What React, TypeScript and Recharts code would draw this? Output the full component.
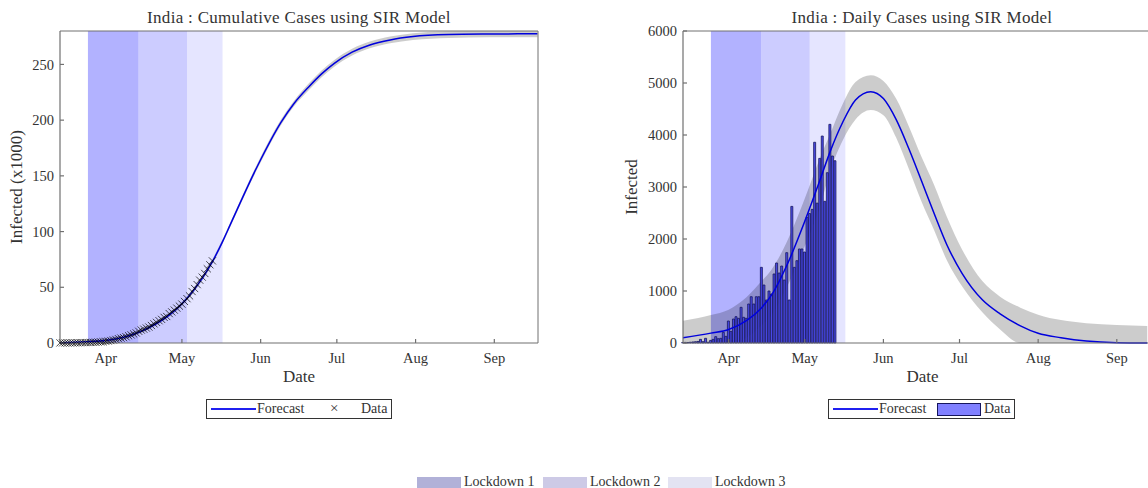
import {
  Area,
  Bar,
  ComposedChart,
  Line,
  ReferenceArea,
  XAxis,
  YAxis,
} from 'recharts'

const FONT = '"Liberation Serif", serif'
const INK = '#333333'
const AXIS = '#707070'
const FORECAST_BLUE = '#0000dd'

// days counted from 1 April
const monthTicks = [0, 30, 61, 91, 122, 153]
const monthNames = ['Apr', 'May', 'Jun', 'Jul', 'Aug', 'Sep']

const lockdownEdges = [-7, 13, 32, 46]
const lockdownColors = ['#b2b2ff', '#ccccff', '#e5e5ff']
const lockdownNames = ['Lockdown 1', 'Lockdown 2', 'Lockdown 3']
const lockdownSwatches = ['#b1b1d8', '#cdcae6', '#e3e3f2']

const observedDays = [
  -18, -17, -16, -15, -14, -13, -12, -11, -10, -9, -8, -7, -6, -5, -4, -3, -2, -1,
  0, 1, 2, 3, 4, 5, 6, 7, 8, 9, 10, 11, 12, 13, 14, 15, 16, 17, 18, 19, 20, 21,
  22, 23, 24, 25, 26, 27, 28, 29, 30, 31, 32, 33, 34, 35, 36, 37, 38, 39, 40, 41, 42,
]

const cumulativeData = [
  0.08, 0.09, 0.1, 0.11, 0.13, 0.15, 0.18, 0.25, 0.27, 0.36, 0.38, 0.43, 0.5, 0.62, 0.7, 0.79, 1.0, 1.1,
  1.5, 1.74, 2.2, 2.7, 3.2, 3.9, 4.4, 4.85, 5.6, 6.5, 7.25, 8.14, 9.03, 10.5, 11.6, 12.4, 13.4, 14.3, 15.7, 17.2, 18.5, 20,
  21.2, 23, 23.8, 26.4, 27.9, 29.5, 31.3, 33.1, 34.9, 37.3, 39.8, 42.3, 46.2, 48.9, 52.4, 56.4, 59.1, 62.4, 66.6, 70.2, 73.7,
]

const dailyData = [
  10, 12, 10, 15, 20, 25, 30, 70, 25, 90, 15, 50, 70, 122, 83, 90, 205, 128,
  423, 224, 461, 506, 474, 686, 494, 475, 750, 890, 750, 890, 890, 1455, 1115, 827, 1000, 942, 1327, 1538, 1346, 1480,
  1211, 1737, 827, 2627, 1455, 1583, 1808, 1808, 1750, 2416, 2490, 2570, 3860, 2690, 3550, 3980, 2725, 3275, 4205, 3596, 3505,
]

const cumulativeDays = [-18, -7, 0, 13, 20, 25, 31, 38, 42, 46, 49, 60, 69, 74, 80, 85, 90, 97, 104, 112, 121, 135, 151, 170]
const cumulativeForecast = [0.3, 1.2, 2.2, 9.5, 17.5, 25, 37.5, 58, 73, 91, 106, 160, 198, 214.5, 230, 241.5, 251, 261, 267.5, 272, 275, 276.8, 277.3, 277.5]
const cumulativeLow = [0, 0.4, 1.2, 8, 16, 23.5, 35.5, 56, 71, 89, 104, 157.5, 195.5, 212, 227, 238.5, 248, 258, 264.5, 269, 272, 273.8, 274.3, 274.5]
const cumulativeHigh = [0.8, 2, 3.2, 11, 19, 26.5, 39.5, 60, 75, 93, 108, 162.5, 200.5, 217, 233, 244.5, 254, 264, 270.5, 275, 278, 279.8, 280, 280]

const dailyDays = [-18, -7, 0, 7, 13, 17, 23, 30, 36, 40, 45, 50, 56, 61, 66, 71, 76, 81, 86, 92, 100, 107, 115, 122, 131, 141, 153, 165]
const dailyForecast = [100, 190, 260, 430, 680, 930, 1500, 2340, 3134, 3680, 4250, 4673, 4833, 4700, 4300, 3740, 3120, 2490, 1890, 1340, 830, 560, 330, 186, 102, 38, 6, 0]
const dailyLow = [0, 0, 0, 100, 340, 540, 1080, 1860, 2620, 3300, 3900, 4300, 4480, 4380, 3950, 3350, 2720, 2170, 1590, 1090, 590, 260, 0, 0, 0, 0, 0, 0]
const dailyHigh = [430, 540, 640, 880, 1190, 1420, 1950, 2780, 3560, 4020, 4600, 5020, 5150, 5040, 4700, 4170, 3580, 3040, 2430, 1800, 1190, 890, 680, 545, 440, 380, 346, 327]

const cumulativeTicks = [0, 50, 100, 150, 200, 250]
const dailyTicks = [0, 1000, 2000, 3000, 4000, 5000, 6000]

interface Row {
  day: number
  observed?: number
  forecast?: number
  band?: [number, number]
}

function buildRows(
  observed: number[],
  knots: number[],
  forecast: number[],
  low: number[],
  high: number[],
): Row[] {
  const byDay = new Map<number, Row>()
  observedDays.forEach((day, i) => byDay.set(day, { day, observed: observed[i] }))
  knots.forEach((day, i) => {
    const row = byDay.get(day) ?? { day }
    row.forecast = forecast[i]
    row.band = [low[i], high[i]]
    byDay.set(day, row)
  })
  return [...byDay.values()].sort((a, b) => a.day - b.day)
}

function monthLabel(value: number): string {
  return monthNames[monthTicks.indexOf(value)] ?? ''
}

function CrossDot(props: { cx?: number; cy?: number; index?: number; value?: unknown }) {
  const { cx, cy, value } = props
  if (cx == null || cy == null || value == null) return <g key={props.index} />
  const r = 3.6
  return (
    <g key={props.index} stroke="#000" strokeWidth={0.7}>
      <line x1={cx - r} y1={cy - r} x2={cx + r} y2={cy + r} />
      <line x1={cx - r} y1={cy + r} x2={cx + r} y2={cy - r} />
    </g>
  )
}

interface PanelProps {
  left: number
  width: number
  axisWidth: number
  marginRight: number
  xMax: number
  yMax: number
  yTicks: number[]
  yLabel: string
  rows: Row[]
  daily: boolean
}

function Panel({ left, width, axisWidth, marginRight, xMax, yMax, yTicks, yLabel, rows, daily }: PanelProps) {
  const tickStyle = { fill: INK, fontSize: 14.5, fontFamily: FONT }
  return (
    <div style={{ position: 'absolute', left, top: 0 }}>
      <ComposedChart
        width={width}
        height={430}
        data={rows}
        margin={{ top: 30, right: marginRight, bottom: 42, left: 0 }}
      >
        <XAxis
          dataKey="day"
          type="number"
          domain={[-18, xMax]}
          ticks={monthTicks}
          tickFormatter={monthLabel}
          height={45}
          tickSize={-4}
          tickMargin={14}
          tick={tickStyle}
          stroke={AXIS}
          strokeWidth={1.2}
          label={{
            value: 'Date',
            position: 'insideBottom',
            offset: 6,
            dx: daily ? 7 : 0,
            fill: INK,
            fontSize: 17,
            fontFamily: FONT,
          }}
        />
        <XAxis
          xAxisId="top"
          orientation="top"
          dataKey="day"
          type="number"
          domain={[-18, xMax]}
          ticks={monthTicks}
          height={1}
          tick={false}
          tickSize={-4}
          stroke={AXIS}
        />
        <YAxis
          type="number"
          domain={[0, yMax]}
          ticks={yTicks}
          width={axisWidth}
          interval={0}
          tickSize={-4}
          tickMargin={10}
          tick={tickStyle}
          stroke={AXIS}
          strokeWidth={1.2}
          label={{
            value: yLabel,
            angle: -90,
            position: 'insideLeft',
            offset: daily ? 31 : 16,
            style: { textAnchor: 'middle' },
            fill: INK,
            fontSize: 17,
            fontFamily: FONT,
          }}
        />
        {!daily && (
          <YAxis
            yAxisId="right"
            orientation="right"
            type="number"
            domain={[0, yMax]}
            ticks={yTicks}
            width={1}
            tick={false}
            tickSize={-4}
            stroke={AXIS}
          />
        )}
        {lockdownColors.map((color, i) => (
          <ReferenceArea
            key={color}
            x1={lockdownEdges[i]}
            x2={lockdownEdges[i + 1]}
            y1={0}
            y2={yMax}
            fill={color}
            fillOpacity={1}
            stroke="none"
          />
        ))}
        <Area
          dataKey="band"
          type="monotone"
          connectNulls
          stroke="none"
          fill="#000"
          fillOpacity={0.2}
          dot={false}
          activeDot={false}
          isAnimationActive={false}
        />
        {daily && (
          <Bar
            dataKey="observed"
            barSize={2}
            fill="#4a4ae8"
            stroke="#16165e"
            strokeWidth={0.8}
            isAnimationActive={false}
          />
        )}
        <Line
          dataKey="forecast"
          type="monotone"
          connectNulls
          stroke={FORECAST_BLUE}
          strokeWidth={1.5}
          dot={false}
          activeDot={false}
          isAnimationActive={false}
        />
        {!daily && (
          <Line
            dataKey="observed"
            stroke="none"
            dot={(p: any) => <CrossDot {...p} key={p.index} />}
            activeDot={false}
            isAnimationActive={false}
          />
        )}
      </ComposedChart>
    </div>
  )
}

function Title({ center, text }: { center: number; text: string }) {
  return (
    <div
      style={{
        position: 'absolute',
        left: center - 250,
        width: 500,
        top: 8,
        textAlign: 'center',
        fontSize: 17,
        letterSpacing: 0.3,
        lineHeight: '20px',
        color: INK,
        whiteSpace: 'nowrap',
      }}
    >
      {text}
    </div>
  )
}

function SeriesLegend({ left, width, daily }: { left: number; width: number; daily: boolean }) {
  return (
    <div
      style={{
        position: 'absolute',
        left,
        top: 399,
        width,
        height: 20,
        boxSizing: 'border-box',
        border: '1px solid #333',
        background: '#fff',
        fontSize: 14,
        lineHeight: '17px',
        color: INK,
      }}
    >
      <span style={{ position: 'absolute', left: 4, top: 8, width: 45, height: 1.5, background: '#2020f0' }} />
      <span style={{ position: 'absolute', left: 50 }}>Forecast</span>
      {daily ? (
        <span
          style={{
            position: 'absolute',
            left: 108,
            top: 3,
            width: 44,
            height: 13,
            boxSizing: 'border-box',
            background: '#8080ff',
            border: '1px solid #16165e',
          }}
        />
      ) : (
        <span style={{ position: 'absolute', left: 123, fontSize: 15 }}>×</span>
      )}
      <span style={{ position: 'absolute', left: daily ? 155 : 154 }}>Data</span>
    </div>
  )
}

export default function App() {
  const cumulativeRows = buildRows(cumulativeData, cumulativeDays, cumulativeForecast, cumulativeLow, cumulativeHigh)
  const dailyRows = buildRows(dailyData, dailyDays, dailyForecast, dailyLow, dailyHigh)
  const swatchLefts = [417, 543, 668]

  return (
    <div
      style={{
        position: 'absolute',
        left: 0,
        top: 0,
        width: 1148,
        height: 488,
        overflow: 'hidden',
        background: '#fff',
        fontFamily: FONT,
      }}
    >
      <Panel
        left={0}
        width={570}
        axisWidth={60}
        marginRight={31}
        xMax={170.2}
        yMax={280}
        yTicks={cumulativeTicks}
        yLabel="Infected (x1000)"
        rows={cumulativeRows}
        daily={false}
      />
      <Panel
        left={600}
        width={548}
        axisWidth={83}
        marginRight={0}
        xMax={165.3}
        yMax={6000}
        yTicks={dailyTicks}
        yLabel="Infected"
        rows={dailyRows}
        daily
      />
      <Title center={299} text="India : Cumulative Cases using SIR Model" />
      <Title center={922} text="India : Daily Cases using SIR Model" />
      <SeriesLegend left={206} width={186} daily={false} />
      <SeriesLegend left={828} width={187} daily />
      {lockdownNames.map((name, i) => (
        <div key={name}>
          <span
            style={{
              position: 'absolute',
              left: swatchLefts[i],
              top: 477,
              width: 44,
              height: 11,
              background: lockdownSwatches[i],
            }}
          />
          <span
            style={{
              position: 'absolute',
              left: swatchLefts[i] + 47,
              top: 476,
              fontSize: 14,
              lineHeight: '12px',
              color: INK,
              whiteSpace: 'nowrap',
            }}
          >
            {name}
          </span>
        </div>
      ))}
    </div>
  )
}
